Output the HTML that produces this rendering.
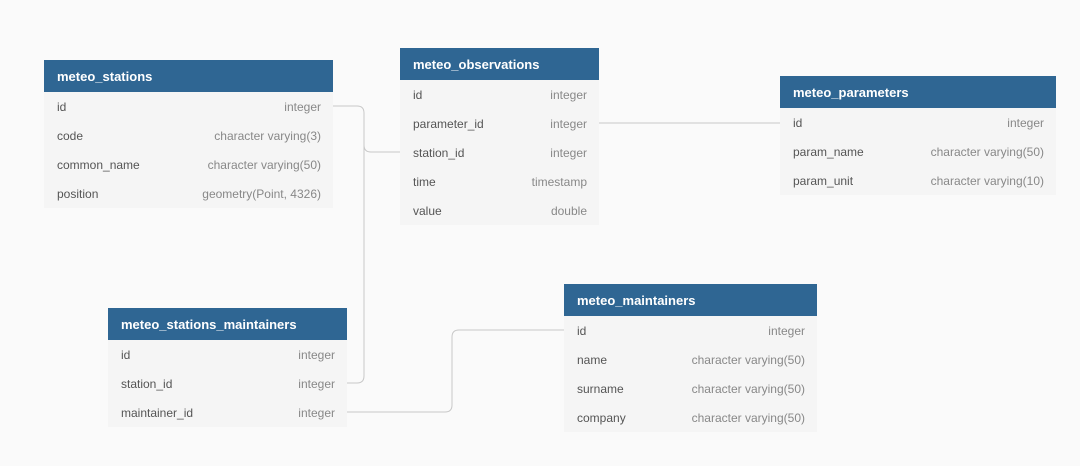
<!DOCTYPE html>
<html><head><style>
body{margin:0;width:1080px;height:466px;background:#fafafa;position:relative;overflow:hidden;font-family:"Liberation Sans",sans-serif;}
.t{position:absolute;background:#f5f5f5;}
.h{background:#2f6693;color:#fff;font-weight:bold;font-size:13px;height:32px;line-height:34px;padding-left:13px;}
.r{height:29px;line-height:31px;font-size:12px;color:#555;padding:0 12px 0 13px;display:flex;justify-content:space-between;}
.r span:last-child{color:#888;}
svg{position:absolute;left:0;top:0;}
</style></head><body>
<svg width="1080" height="466"><g fill="none" stroke="#c8c8c8" stroke-width="1">
<path d="M333 106 H357 Q364 106 364 113 V145 Q364 152 371 152 H400"/>
<path d="M364 145 V376 Q364 383 357 383 H347"/>
<path d="M599 123 H780"/>
<path d="M347 412 H445 Q452 412 452 405 V337 Q452 330 459 330 H564"/>
</g></svg>
<div class="t" style="left:44px;top:60px;width:289px"><div class="h">meteo_stations</div>
<div class="r"><span>id</span><span>integer</span></div>
<div class="r"><span>code</span><span>character varying(3)</span></div>
<div class="r"><span>common_name</span><span>character varying(50)</span></div>
<div class="r"><span>position</span><span>geometry(Point, 4326)</span></div></div>
<div class="t" style="left:400px;top:48px;width:199px"><div class="h">meteo_observations</div>
<div class="r"><span>id</span><span>integer</span></div>
<div class="r"><span>parameter_id</span><span>integer</span></div>
<div class="r"><span>station_id</span><span>integer</span></div>
<div class="r"><span>time</span><span>timestamp</span></div>
<div class="r"><span>value</span><span>double</span></div></div>
<div class="t" style="left:780px;top:76px;width:276px"><div class="h">meteo_parameters</div>
<div class="r"><span>id</span><span>integer</span></div>
<div class="r"><span>param_name</span><span>character varying(50)</span></div>
<div class="r"><span>param_unit</span><span>character varying(10)</span></div></div>
<div class="t" style="left:108px;top:308px;width:239px"><div class="h">meteo_stations_maintainers</div>
<div class="r"><span>id</span><span>integer</span></div>
<div class="r"><span>station_id</span><span>integer</span></div>
<div class="r"><span>maintainer_id</span><span>integer</span></div></div>
<div class="t" style="left:564px;top:284px;width:253px"><div class="h">meteo_maintainers</div>
<div class="r"><span>id</span><span>integer</span></div>
<div class="r"><span>name</span><span>character varying(50)</span></div>
<div class="r"><span>surname</span><span>character varying(50)</span></div>
<div class="r"><span>company</span><span>character varying(50)</span></div></div>
</body></html>
